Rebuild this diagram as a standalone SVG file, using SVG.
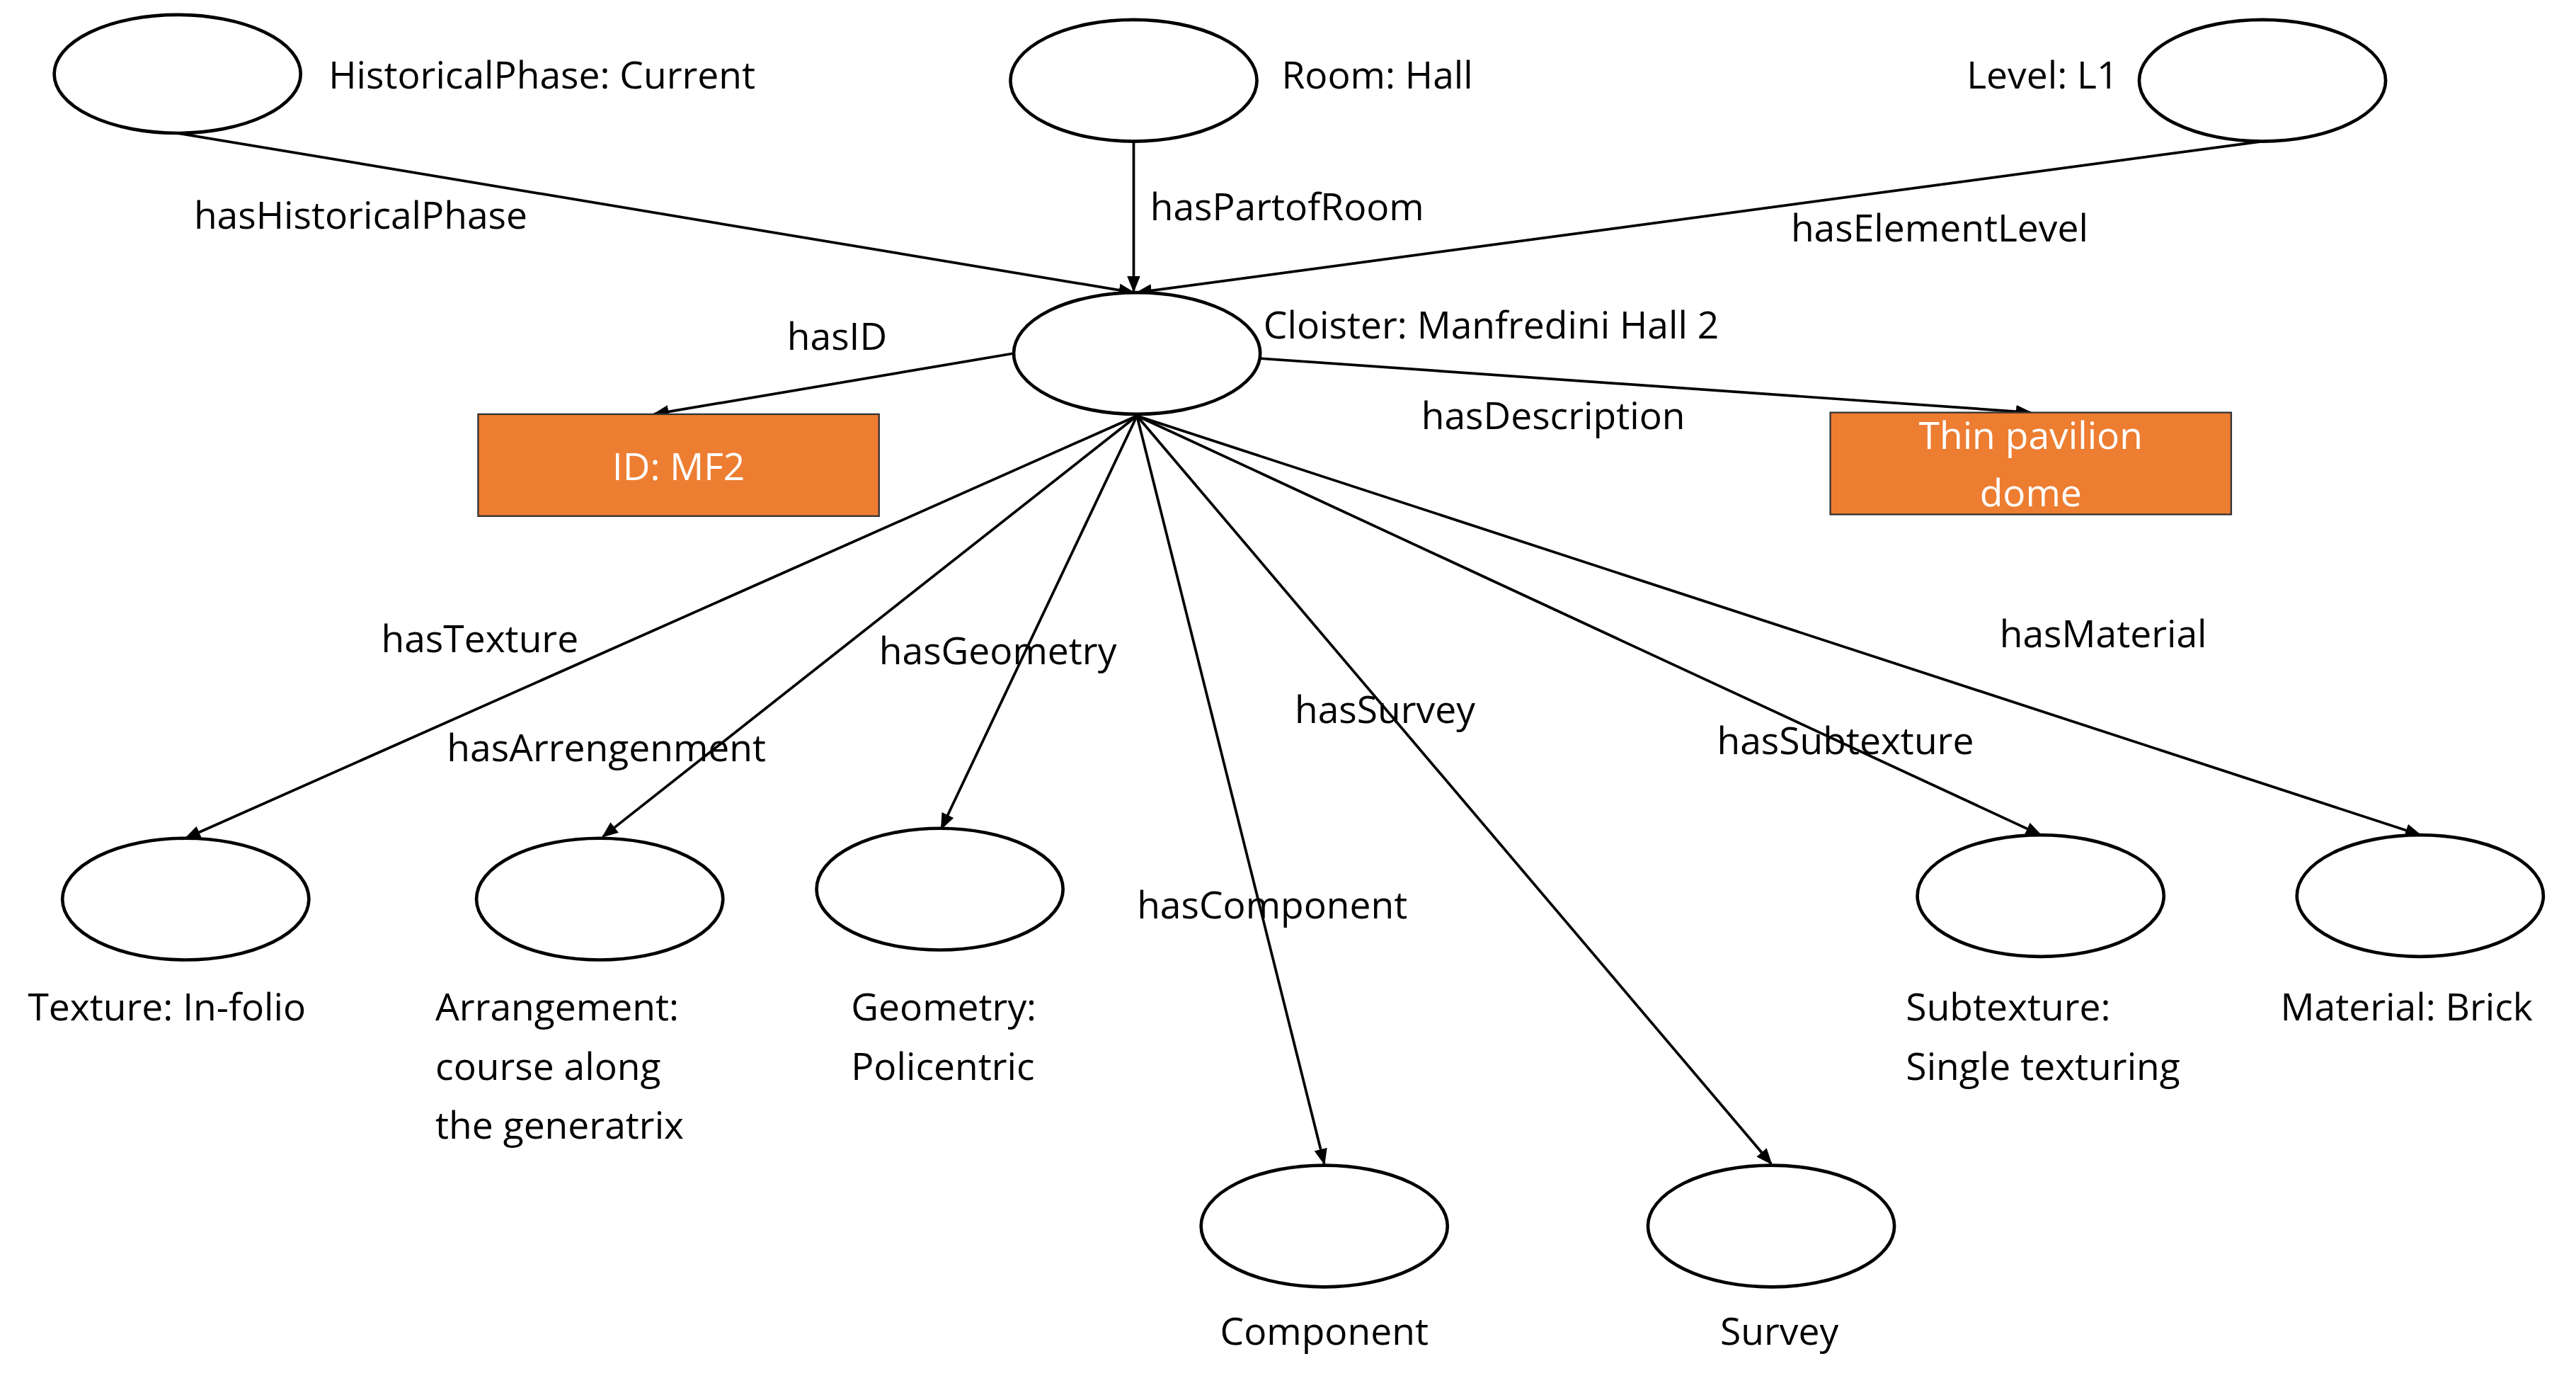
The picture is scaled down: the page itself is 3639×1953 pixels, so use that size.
<svg xmlns="http://www.w3.org/2000/svg" width="3639" height="1953" viewBox="0 0 3639 1953">
<style>
text{font-family:"Open Sans","Liberation Sans",sans-serif;font-size:23px;fill:#000}
.n{fill:#fff;stroke:#000;stroke-width:2}
.b{fill:#ED7D31;stroke:#333;stroke-width:1}
.w{fill:#fff;text-anchor:middle}
.e line{stroke:#000;stroke-width:1.6;marker-end:url(#a)}
.m{text-anchor:middle}
</style>
<defs><marker id="a" markerWidth="10" markerHeight="8" refX="9" refY="4" orient="auto" markerUnits="userSpaceOnUse"><path d="M0,0L10,4L0,8z" fill="#000"/></marker></defs>
<rect width="3639" height="1953" fill="#fff"/>
<g transform="scale(2.321)">
<g id="connectors" class="e">
<line x1="108" y1="81" x2="690" y2="178"/>
<line x1="690" y1="87" x2="690" y2="177"/>
<line x1="1377" y1="86" x2="692" y2="178"/>
<line x1="617" y1="215" x2="398" y2="252"/>
<line x1="766" y1="218" x2="1236" y2="251"/>
<line x1="692" y1="253" x2="113" y2="510"/>
<line x1="692" y1="253" x2="367" y2="509"/>
<line x1="692" y1="253" x2="573" y2="504"/>
<line x1="692" y1="253" x2="806" y2="708"/>
<line x1="692" y1="253" x2="1078" y2="708"/>
<line x1="692" y1="253" x2="1242" y2="508"/>
<line x1="692" y1="253" x2="1473" y2="508"/>
<text x="118" y="139">hasHistoricalPhase</text>
<text x="700" y="134">hasPartofRoom</text>
<text x="1090" y="147">hasElementLevel</text>
<text x="479" y="213">hasID</text>
<text x="865" y="261">hasDescription</text>
<text x="232" y="397">hasTexture</text>
<text x="535" y="404">hasGeometry</text>
<text x="272" y="463">hasArrengenment</text>
<text x="788" y="440">hasSurvey</text>
<text x="1045" y="459">hasSubtexture</text>
<text x="1217" y="394">hasMaterial</text>
<text x="692" y="559">hasComponent</text>
</g>
<g id="historicalphase"><ellipse class="n" cx="108" cy="45" rx="75" ry="36"/><text x="200" y="54">HistoricalPhase: Current</text></g>
<g id="room"><ellipse class="n" cx="690" cy="49" rx="75" ry="37"/><text x="780" y="54">Room: Hall</text></g>
<g id="level"><ellipse class="n" cx="1377" cy="49" rx="75" ry="37"/><text x="1197" y="54">Level: L1</text></g>
<g id="cloister"><ellipse class="n" cx="692" cy="215" rx="75" ry="37"/><text x="769" y="206">Cloister: Manfredini Hall 2</text></g>
<g id="id"><rect class="b" x="291" y="252" width="244" height="62"/><text class="w" x="413" y="292">ID: MF2</text></g>
<g id="description"><rect class="b" x="1114" y="251" width="244" height="62"/><text class="w" x="1236" y="273">Thin pavilion</text><text class="w" x="1236" y="308">dome</text></g>
<g id="texture"><ellipse class="n" cx="113" cy="547" rx="75" ry="37"/><text x="17" y="621">Texture: In-folio</text></g>
<g id="arrangement"><ellipse class="n" cx="365" cy="547" rx="75" ry="37"/><text x="265" y="621">Arrangement:</text><text x="265" y="657">course along</text><text x="265" y="693">the generatrix</text></g>
<g id="geometry"><ellipse class="n" cx="572" cy="541" rx="75" ry="37"/><text x="518" y="621">Geometry:</text><text x="518" y="657">Policentric</text></g>
<g id="subtexture"><ellipse class="n" cx="1242" cy="545" rx="75" ry="37"/><text x="1160" y="621">Subtexture:</text><text x="1160" y="657">Single texturing</text></g>
<g id="material"><ellipse class="n" cx="1473" cy="545" rx="75" ry="37"/><text x="1388" y="621">Material: Brick</text></g>
<g id="component"><ellipse class="n" cx="806" cy="746" rx="75" ry="37"/><text class="m" x="806" y="818">Component</text></g>
<g id="survey"><ellipse class="n" cx="1078" cy="746" rx="75" ry="37"/><text class="m" x="1083" y="818">Survey</text></g>
</g>
</svg>
